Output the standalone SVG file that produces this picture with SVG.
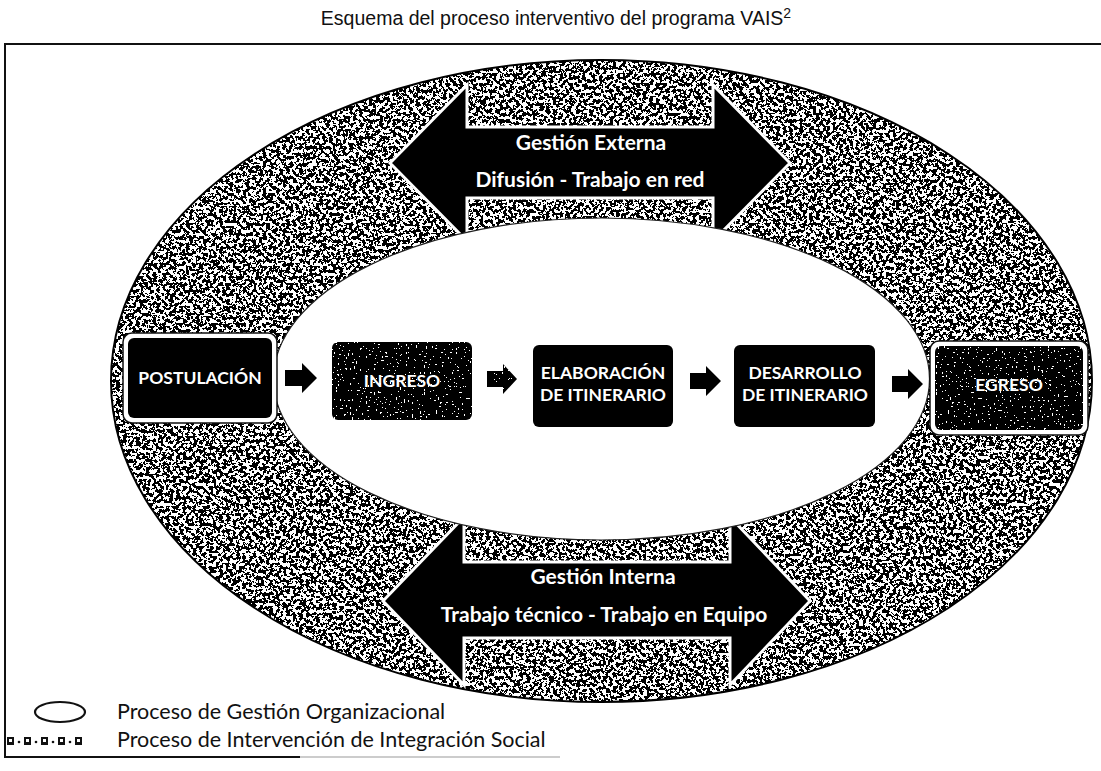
<svg xmlns="http://www.w3.org/2000/svg" width="1101" height="771" viewBox="0 0 1101 771">
  <style>
    .title { font-family: "Liberation Sans", Arial, sans-serif; font-size: 19.5px; fill: #111; }
    .box-label { font-family: Lato, "Noto Sans", sans-serif; font-weight: bold; font-size: 17.5px; fill: #fff; text-anchor: middle; }
    .band-label { font-family: Lato, "Noto Sans", sans-serif; font-weight: bold; font-size: 21px; fill: #fff; text-anchor: middle; }
    .legend-label { font-family: Lato, "Noto Sans", sans-serif; font-size: 21.5px; fill: #111; }
    .band { fill: #000; stroke: #fff; stroke-width: 3; stroke-linejoin: miter; }
    .step { fill: #000; }
    .flow { fill: #000; }
  </style>
  <defs>
    <!-- mottled mid-grey texture for the organisational ring -->
    <filter id="grainRing" x="0" y="0" width="1" height="1" color-interpolation-filters="sRGB">
      <feTurbulence type="fractalNoise" baseFrequency="0.3" numOctaves="4" seed="7" result="n"/>
      <feColorMatrix in="n" type="matrix" values="0 0 0 0 0  0 0 0 0 0  0 0 0 0 0  1 0 0 0 0" result="a"/>
      <feComponentTransfer in="a" result="d">
        <feFuncA type="discrete" tableValues="0 0 0 0 0 0 0 0 0 0 1 1 1 1 1 1 1 1 1 1"/>
      </feComponentTransfer>
      <feFlood flood-color="#ffffff" result="w"/>
      <feMerge result="m"><feMergeNode in="w"/><feMergeNode in="d"/></feMerge>
      <feComposite in="m" in2="SourceGraphic" operator="in"/>
    </filter>
    <!-- dark speckled texture for the entry / exit steps -->
    <filter id="grainDark" x="0" y="0" width="1" height="1" color-interpolation-filters="sRGB">
      <feTurbulence type="fractalNoise" baseFrequency="0.5" numOctaves="3" seed="3" result="n"/>
      <feColorMatrix in="n" type="matrix" values="0 0 0 0 0  0 0 0 0 0  0 0 0 0 0  1 0 0 0 0" result="a"/>
      <feComponentTransfer in="a" result="d">
        <feFuncA type="discrete" tableValues="0 0 0 0 0 0 1 1 1 1 1 1 1 1 1 1 1 1 1 1"/>
      </feComponentTransfer>
      <feFlood flood-color="#ffffff" result="w"/>
      <feMerge result="m"><feMergeNode in="w"/><feMergeNode in="d"/></feMerge>
      <feComposite in="m" in2="SourceGraphic" operator="in"/>
    </filter>
  </defs>

  <rect width="1101" height="771" fill="#fff"/>

  <!-- heading -->
  <text class="title" x="556" y="25" text-anchor="middle">Esquema del proceso interventivo del programa VAIS<tspan font-size="14" dy="-7">2</tspan></text>

  <!-- frame -->
  <g id="frame" fill="none">
    <path d="M1101,44 H5 V757 H300" stroke="#111" stroke-width="2"/>
    <path d="M300,757 H560" stroke="#999" stroke-width="1"/>
  </g>

  <!-- organisational management ring -->
  <g id="ring">
    <ellipse cx="601.5" cy="381" rx="490.5" ry="321" fill="#000" filter="url(#grainRing)"/>
    <ellipse cx="601.5" cy="381" rx="490.5" ry="321" fill="none" stroke="#000" stroke-width="2"/>
  </g>

  <!-- external management band -->
  <g id="gestion-externa">
    <polygon class="band" points="390,163 467,85 467,127 713,127 713,85 790,163 713,241 713,198 467,198 467,241"/>
    <text class="band-label" x="591" y="150">Gestión Externa</text>
    <text class="band-label" x="590" y="187">Difusión - Trabajo en red</text>
  </g>

  <!-- internal management band -->
  <g id="gestion-interna">
    <polygon class="band" points="383,601 464,517 464,562 730,562 730,517 810,601 730,685 730,638 464,638 464,685"/>
    <text class="band-label" x="603" y="584">Gestión Interna</text>
    <text class="band-label" x="604" y="622">Trabajo técnico - Trabajo en Equipo</text>
  </g>

  <!-- social integration area -->
  <g id="inner">
    <ellipse cx="601.5" cy="379" rx="328" ry="161" fill="#fff" stroke="#222" stroke-width="1.2"/>
  </g>

  <!-- flow arrows between steps -->
  <g id="connectors">
    <polygon class="flow" points="285,370 302,370 302,363 317,378 302,393 302,386 285,386"/>
    <polygon class="flow" points="487,371 503,371 503,364 517,379 503,394 503,387 487,387" filter="url(#grainDark)"/>
    <polygon class="flow" points="690,373 706,373 706,366 721,381 706,396 706,389 690,389"/>
    <polygon class="flow" points="892,376 908,376 908,369 923,384 908,399 908,392 892,392"/>
  </g>

  <g id="node-postulacion">
    <rect x="123" y="333" width="154" height="90" rx="9" fill="#fff" stroke="#111" stroke-width="1.5"/>
    <rect class="step" x="128" y="338" width="144" height="80" rx="6"/>
    <text class="box-label" x="200" y="384">POSTULACIÓN</text>
  </g>

  <g id="node-ingreso">
    <rect x="332" y="342" width="140" height="78" rx="6" fill="#000" filter="url(#grainDark)"/>
    <text class="box-label" x="402" y="387">INGRESO</text>
  </g>

  <g id="node-elaboracion">
    <rect class="step" x="533" y="345" width="140" height="82" rx="6"/>
    <text class="box-label" x="603" y="379">ELABORACIÓN</text>
    <text class="box-label" x="603" y="401">DE ITINERARIO</text>
  </g>

  <g id="node-desarrollo">
    <rect class="step" x="734" y="345" width="141" height="82" rx="6"/>
    <text class="box-label" x="805" y="379">DESARROLLO</text>
    <text class="box-label" x="805" y="401">DE ITINERARIO</text>
  </g>

  <g id="node-egreso">
    <rect x="930" y="341" width="158" height="94" rx="9" fill="#fff" stroke="#111" stroke-width="1.5"/>
    <rect x="935" y="346" width="148" height="84" rx="6" fill="#000" filter="url(#grainDark)"/>
    <text class="box-label" x="1009" y="391">EGRESO</text>
  </g>

  <!-- key -->
  <g id="legend">
    <ellipse cx="60" cy="712" rx="25" ry="10" fill="#fff" stroke="#111" stroke-width="2.2"/>
    <g fill="#111">
      <rect x="7" y="737" width="7" height="8"/>
      <circle cx="19" cy="742" r="1.3"/>
      <rect x="24" y="737" width="7" height="8"/>
      <circle cx="36" cy="742" r="1.3"/>
      <rect x="41" y="737" width="7" height="8"/>
      <circle cx="53" cy="742" r="1.3"/>
      <rect x="58" y="737" width="7" height="8"/>
      <circle cx="70" cy="742" r="1.3"/>
      <rect x="75" y="737" width="7" height="8"/>
    </g>
    <g fill="#fff">
      <rect x="9" y="739" width="3" height="3"/>
      <rect x="26" y="739" width="3" height="3"/>
      <rect x="43" y="739" width="3" height="3"/>
      <rect x="60" y="739" width="3" height="3"/>
      <rect x="77" y="739" width="3" height="3"/>
    </g>
    <text class="legend-label" x="117" y="719">Proceso de Gestión Organizacional</text>
    <text class="legend-label" x="117" y="747">Proceso de Intervención de Integración Social</text>
  </g>
</svg>
